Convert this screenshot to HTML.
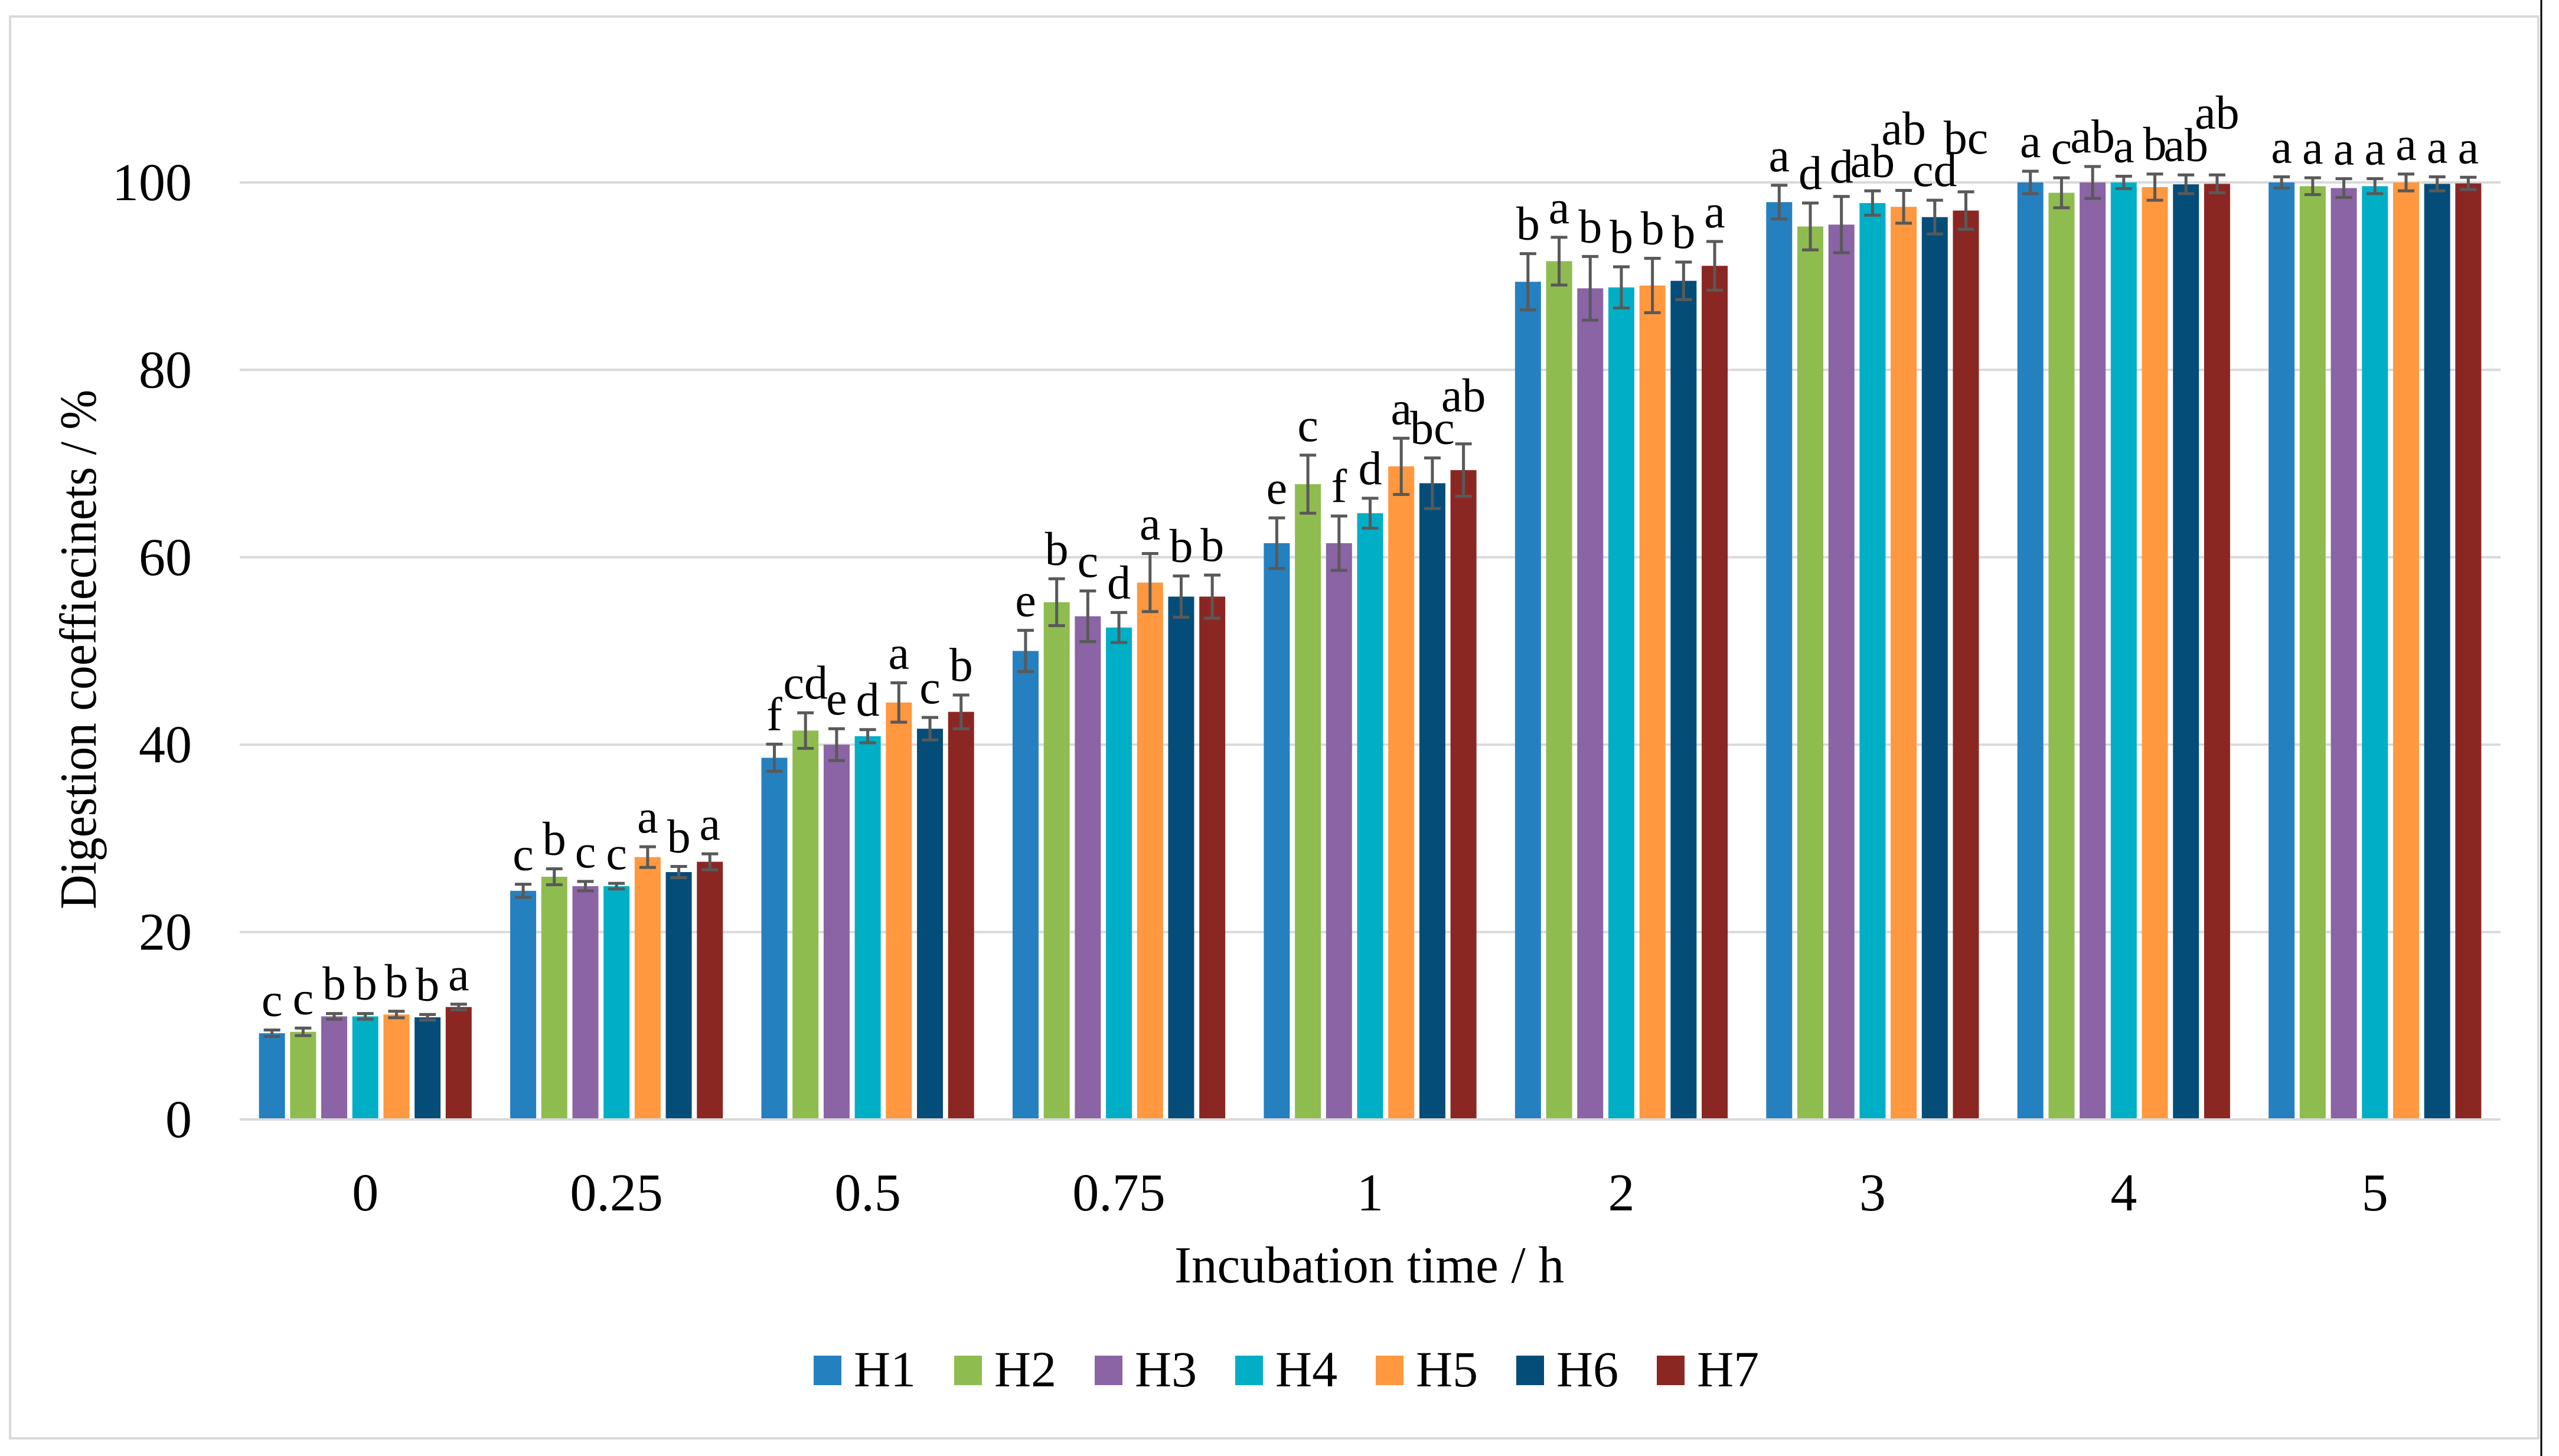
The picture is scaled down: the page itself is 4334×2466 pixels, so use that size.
<!DOCTYPE html>
<html><head><meta charset="utf-8"><style>
html,body{margin:0;padding:0;background:#fff;}
svg{display:block;font-family:"Liberation Serif","DejaVu Serif",serif;}
</style></head><body>
<svg id="chart" width="4334" height="2466" viewBox="0 0 4334 2466" xmlns="http://www.w3.org/2000/svg">
<rect x="17" y="28" width="4282" height="2408" fill="#fff" stroke="#d9d9d9" stroke-width="4"/>
<line x1="4304" y1="0" x2="4304" y2="2466" stroke="#000" stroke-width="3"/>
<g id="grid"></g><g id="bars"></g><g id="errs"></g><g id="lets"></g><g id="axes"></g>
<text transform="translate(162,1100) rotate(-90)" text-anchor="middle" font-size="88" textLength="880" lengthAdjust="spacingAndGlyphs">Digestion coeffiecinets / %</text>
<text x="2319" y="2172" text-anchor="middle" font-size="88" textLength="660" lengthAdjust="spacingAndGlyphs">Incubation time / h</text>
<g id="legend"></g>
</svg>
<script>
const categories=["0","0.25","0.5","0.75","1","2","3","4","5"];
const seriesNames=["H1","H2","H3","H4","H5","H6","H7"];
const colors=["#2580bf","#8fbc4f","#8a64a4","#00afc6","#ff983f","#044d78","#8a2723"];
const H1=[9.2,24.4,38.6,50.0,61.5,89.4,97.9,100,100];
const H2=[9.35,25.9,41.5,55.2,67.8,91.6,95.3,98.9,99.6];
const H3=[11.0,24.9,40.0,53.7,61.5,88.7,95.5,100,99.4];
const H4=[11.0,24.9,40.9,52.5,64.7,88.8,97.8,100,99.6];
const H5=[11.2,28.0,44.5,57.3,69.7,89.0,97.4,99.5,100];
const H6=[10.9,26.4,41.7,55.8,67.9,89.5,96.3,99.8,99.85];
const H7=[12.0,27.5,43.5,55.8,69.3,91.1,97.0,99.85,99.9];
const E1=[0.35,0.7,1.45,2.2,2.7,3.0,1.8,1.2,0.6];
const E2=[0.4,0.85,1.9,2.5,3.1,2.55,2.5,1.6,0.9];
const E3=[0.3,0.5,1.7,2.7,2.9,3.4,3.0,1.7,1.0];
const E4=[0.3,0.3,0.7,1.6,1.6,2.2,1.3,0.66,0.8];
const E5=[0.35,1.1,2.1,3.1,3.0,2.9,1.75,1.4,0.9];
const E6=[0.3,0.6,1.2,2.2,2.7,2.0,1.8,1.0,0.75];
const E7=[0.3,0.85,1.8,2.3,2.8,2.6,2.0,0.95,0.65];
const L1=["c","c","f","e","e","b","a","a","a"];
const L2=["c","b","cd","b","c","a","d","c","a"];
const L3=["b","c","e","c","f","b","d","ab","a"];
const L4=["b","c","d","d","d","b","ab","a","a"];
const L5=["b","a","a","a","a","b","ab","b","a"];
const L6=["b","b","c","b","bc","b","cd","ab","a"];
const L7=["a","a","b","b","ab","a","bc","ab","a"];
const yTicks=[0,20,40,60,80,100];
const vals=[H1,H2,H3,H4,H5,H6,H7],errs=[E1,E2,E3,E4,E5,E6,E7],lets=[L1,L2,L3,L4,L5,L6,L7];
const NS="http://www.w3.org/2000/svg";
const X0=406,X1=4235,Y0=1896,Y100=309;
const catW=(X1-X0)/categories.length,step=52.7,bw=44;
function y(v){return Y0-(Y0-Y100)*v/100;}
function xb(c,s){return X0+c*catW+(catW-7*step+(step-bw))/2+s*step;}
function mk(tag,attrs,parent,txt){const e=document.createElementNS(NS,tag);for(const k in attrs)e.setAttribute(k,attrs[k]);if(txt!==undefined)e.textContent=txt;document.getElementById(parent).appendChild(e);return e;}
yTicks.forEach(t=>{
 const l=mk("line",{x1:X0,x2:X1,y1:y(t),y2:y(t),stroke:"#d9d9d9","stroke-width":4},"grid");
 
 
 const tx=mk("text",{x:325,y:y(t)+30,"text-anchor":"end","font-size":90},"axes",String(t));
 
 
});
categories.forEach((c,ci)=>{
 const tx=mk("text",{x:X0+(ci+0.5)*catW,y:2050,"text-anchor":"middle","font-size":90},"axes",c);
 
 
 let prev=null;
 vals.forEach((sv,si)=>{
  const v=sv[ci],e=errs[si][ci],x=xb(ci,si);
  const r=mk("rect",{x:x,y:y(v),width:bw,height:Y0-y(v),fill:colors[si]},"bars");
  
  
  const cx=x+bw/2,t=y(v+e),b=y(v-e);
  const g=mk("path",{d:`M${cx},${t}V${b}M${cx-14},${t}H${cx+14}M${cx-14},${b}H${cx+14}`,stroke:"#595959","stroke-width":5,fill:"none"},"errs");
  
  
  const txt=lets[si][ci];
  const w=txt.length*34;
  let by=t-24;
  if(prev){
   const overlapX=(cx-w/2)<(prev.x+prev.w/2)-8;
   if(overlapX && Math.abs(by-prev.y)<60) by=prev.y-55;
  }
  const lt=mk("text",{x:cx,y:by,"text-anchor":"middle","font-size":80},"lets",txt);
  
  
  prev={x:cx,w:w,y:by};
 });
});
mk("line",{x1:X0,x2:X1,y1:Y0,y2:Y0,stroke:"#d9d9d9","stroke-width":4},"axes");
seriesNames.forEach((n,i)=>{
 const lx=1378+i*238;
 const m=mk("rect",{x:lx,y:2296,width:47,height:50,fill:colors[i]},"legend");
 
 
 const t=mk("text",{x:lx+68,y:2348,"font-size":86},"legend",n);
 
 
});
</script>
</body></html>
